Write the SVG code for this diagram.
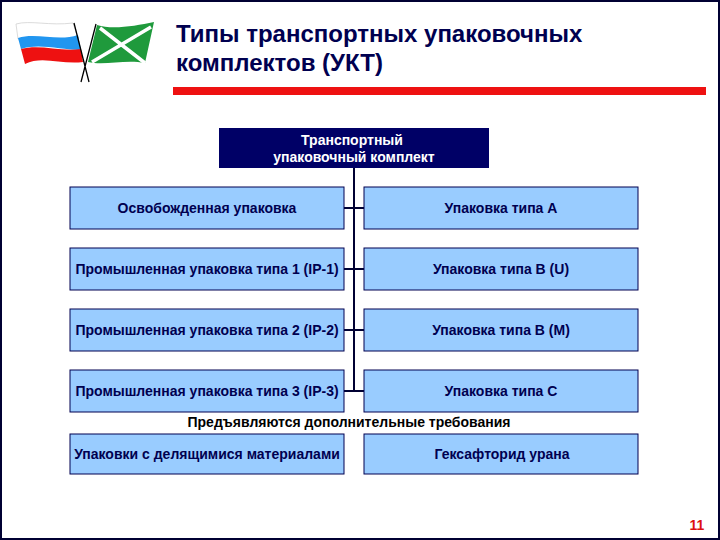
<svg xmlns="http://www.w3.org/2000/svg" width="720" height="540" viewBox="0 0 720 540">
<style>
text{font-family:"Liberation Sans",Arial,sans-serif;text-anchor:middle;font-weight:bold;}
.b{fill:#99ccff;stroke:#000050;stroke-width:1;}
.t{font-size:14px;fill:#000050;}
.p{font-size:14px;fill:#000000;}
.h{text-anchor:start;font-size:24px;fill:#000050;}
.c{stroke:#000033;stroke-width:2;fill:none;}
</style>
<rect x="0" y="0" width="720" height="540" fill="#000033"/>
<rect x="2" y="2" width="716" height="536" fill="#ffffff"/>
<g id="flags">
<path d="M16 24C30 20 50 26 73 23L78 38C58 42 36 33 18 39Z" fill="#ffffff" stroke="#cccccc" stroke-width="0.7"/>
<path d="M18 38C36 32 58 42 78 35L81 50C60 50 40 43 21 49Z" fill="#2196f0"/>
<path d="M21 49C40 44 60 52 81 49L83 62C62 65 42 55 25 64Z" fill="#ee1111"/>
<path d="M74 23L89 82M96 24L81 82" stroke="#000000" stroke-width="1.3" fill="none"/>
<path d="M97 25C112 30 135 26 154 22L145 63C125 59 105 66 88 62Z" fill="#1f9a3c"/>
<path d="M100 28L145 63M151 27L92 62" stroke="#ffffff" stroke-width="3.5" fill="none"/>
</g>
<g id="title"><text x="176" y="42" class="h">Типы транспортных упаковочных</text>
<text x="176" y="71" class="h">комплектов (УКТ)</text>
<rect x="173" y="87" width="533" height="8" fill="#ee1111"/></g>
<g id="connectors">
<path class="c" d="M354 168V391M344 208H364M344 269H364M344 330H364M344 391H364"/>
</g>
<g id="root"><rect x="219" y="128" width="270" height="40" fill="#000066"/><text x="352" y="145" class="t" style="fill:#fff">Транспортный</text><text x="354" y="162" class="t" style="fill:#fff">упаковочный комплект</text></g>
<g id="n1"><rect class="b" x="70" y="187" width="274" height="42"/><text class="t" x="207" y="213">Освобожденная упаковка</text></g>
<g id="n2"><rect class="b" x="70" y="248" width="274" height="42"/><text class="t" x="207" y="274">Промышленная упаковка типа 1 (IP-1)</text></g>
<g id="n3"><rect class="b" x="70" y="309" width="274" height="42"/><text class="t" x="207" y="335">Промышленная упаковка типа 2 (IP-2)</text></g>
<g id="n4"><rect class="b" x="70" y="370" width="274" height="42"/><text class="t" x="207" y="396">Промышленная упаковка типа 3 (IP-3)</text></g>
<g id="n5"><rect class="b" x="364" y="187" width="274" height="42"/><text class="t" x="501" y="213">Упаковка типа А</text></g>
<g id="n6"><rect class="b" x="364" y="248" width="274" height="42"/><text class="t" x="501" y="274">Упаковка типа В (U)</text></g>
<g id="n7"><rect class="b" x="364" y="309" width="274" height="42"/><text class="t" x="501" y="335">Упаковка типа В (М)</text></g>
<g id="n8"><rect class="b" x="364" y="370" width="274" height="42"/><text class="t" x="501" y="396">Упаковка типа С</text></g>
<text class="p" x="349" y="427">Предъявляются дополнительные требования</text>
<g id="n9"><rect class="b" x="70" y="434" width="274" height="40"/><text class="t" x="207" y="459">Упаковки с делящимися материалами</text></g>
<g id="n10"><rect class="b" x="364" y="434" width="274" height="40"/><text class="t" x="502" y="459">Гексафторид урана</text></g>
<text x="697" y="530" style="font-size:14px;fill:#dd1111">11</text>
</svg>
